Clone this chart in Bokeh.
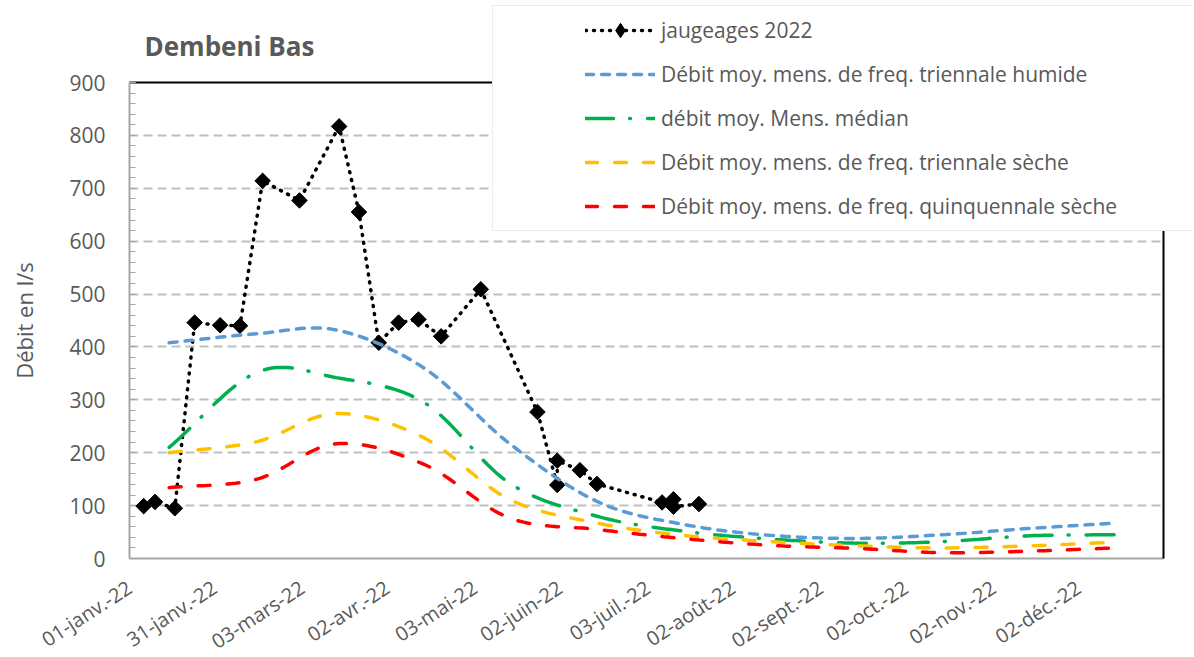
import numpy as np
from bokeh.plotting import figure
from bokeh.models import (Range1d, LinearAxis, FixedTicker, Legend, LegendItem, Label)
from bokeh.embed import file_html
from bokeh.resources import INLINE

# ---------------- data ----------------
gauge_dates = ["2022-01-06", "2022-01-10", "2022-01-17", "2022-01-24", "2022-02-02",
               "2022-02-09", "2022-02-17", "2022-03-02", "2022-03-16", "2022-03-23",
               "2022-03-30", "2022-04-06", "2022-04-13", "2022-04-21", "2022-05-05",
               "2022-05-25", "2022-06-01", "2022-06-01", "2022-06-09", "2022-06-15",
               "2022-07-08", "2022-07-12", "2022-07-12", "2022-07-21"]
gauge_values = [99, 107, 95, 446, 441, 440, 714, 677, 817, 655,
                408, 446, 452, 420, 509, 277, 139, 185, 167, 141,
                106, 112, 98, 103]

month_dates = ["2022-01-15", "2022-02-15", "2022-03-15", "2022-04-15", "2022-05-15",
               "2022-06-15", "2022-07-15", "2022-08-15", "2022-09-15", "2022-10-15",
               "2022-11-15", "2022-12-15"]
wet_triennial = [408, 425, 432, 360, 218, 108, 65, 44, 38, 45, 57, 67]
median_flow = [210, 352, 342, 295, 143, 80, 52, 37, 29, 32, 43, 45]
dry_triennial = [200, 221, 274, 228, 112, 67, 44, 32, 24, 20, 24, 31]
dry_quinquennial = [134, 150, 217, 178, 77, 55, 38, 25, 19, 11, 14, 20]

axis_dates = ["2022-01-01", "2023-01-01"]
tick_dates = ["2022-01-01", "2022-01-31", "2022-03-03", "2022-04-02", "2022-05-03",
              "2022-06-02", "2022-07-03", "2022-08-02", "2022-09-02", "2022-10-02",
              "2022-11-02", "2022-12-02"]
tick_labels = ["01-janv.-22", "31-janv.-22", "03-mars-22", "02-avr.-22", "03-mai-22",
               "02-juin-22", "03-juil.-22", "02-août-22", "02-sept.-22", "02-oct.-22",
               "02-nov.-22", "02-déc.-22"]
y_ticks = [0, 100, 200, 300, 400, 500, 600, 700, 800, 900]
y_max = 900

labels = ["jaugeages 2022",
          "Débit moy. mens. de freq. triennale humide",
          "débit moy. Mens. médian",
          "Débit moy. mens. de freq. triennale sèche",
          "Débit moy. mens. de freq. quinquennale sèche"]


def to_ms(dates):
    return np.array(dates, dtype="datetime64[ms]").astype(np.int64).astype(float)


def smooth(xs, ys, n=24):
    """Catmull-Rom smoothing (like Excel's smoothed line) through the given points."""
    xs = np.asarray(xs, float)
    ys = np.asarray(ys, float)
    px = np.concatenate([[2 * xs[0] - xs[1]], xs, [2 * xs[-1] - xs[-2]]])
    py = np.concatenate([[2 * ys[0] - ys[1]], ys, [2 * ys[-1] - ys[-2]]])
    t = np.linspace(0, 1, n, endpoint=False)
    h00 = 2 * t**3 - 3 * t**2 + 1
    h10 = t**3 - 2 * t**2 + t
    h01 = -2 * t**3 + 3 * t**2
    h11 = t**3 - t**2
    ox, oy = [], []
    for i in range(1, len(px) - 2):
        for arr, out in ((px, ox), (py, oy)):
            m1 = (arr[i + 1] - arr[i - 1]) / 2
            m2 = (arr[i + 2] - arr[i]) / 2
            out.extend(h00 * arr[i] + h10 * m1 + h01 * arr[i + 1] + h11 * m2)
    ox.append(xs[-1])
    oy.append(ys[-1])
    return ox, oy


FONT = "Open Sans"
GREY = "#595959"

# canvas and plot-area geometry (pixels); the whole canvas is the frame so that the
# legend and the title can overlap the plot area like in the original chart
W, H = 1192, 655
L, R, T, B = 129, 1163, 82, 558

x0, x1 = to_ms(axis_dates)
ppms = (R - L) / (x1 - x0)
ppu = (B - T) / y_max
x_range = Range1d(x0 - L / ppms, x0 + (W - L) / ppms)
y_range = Range1d(-(H - B) / ppu, y_max + T / ppu)

p = figure(x_axis_type="datetime", frame_width=W, frame_height=H,
           min_border=0, min_border_left=0, min_border_right=0,
           min_border_top=0, min_border_bottom=0,
           x_range=x_range, y_range=y_range,
           output_backend="svg", toolbar_location=None,
           background_fill_color="white", border_fill_color="white")
p.outline_line_color = None

# grid (horizontal dashed lines limited to the plot area)
grid = p.ygrid[0]
p.xgrid.visible = False
if "cross_bounds" in grid.properties():
    grid.ticker = FixedTicker(ticks=y_ticks[1:-1])
    grid.cross_bounds = (x0, x1)
    grid.grid_line_color = "#BFBFBF"
    grid.grid_line_width = 2
    grid.grid_line_dash = "9 5"
else:
    grid.visible = False
    gy = y_ticks[1:-1]
    p.segment(x0=[x0] * len(gy), y0=gy, x1=[x1] * len(gy), y1=gy,
              line_color="#BFBFBF", line_width=2, line_dash="9 5")

# y axis
yax = p.yaxis[0]
yax.fixed_location = x0
yax.bounds = (0, y_max)
yax.ticker = FixedTicker(ticks=y_ticks, minor_ticks=list(range(0, y_max + 1, 20)))
yax.axis_line_color = "#A6A6A6"
yax.axis_line_width = 2
yax.major_tick_line_color = "#A6A6A6"
yax.minor_tick_line_color = "#A6A6A6"
yax.major_tick_in = 6
yax.major_tick_out = 0
yax.minor_tick_in = 6
yax.minor_tick_out = 0
yax.major_label_standoff = 24
yax.major_label_text_font = FONT
yax.major_label_text_font_size = "21px"
yax.major_label_text_color = GREY
yax.axis_label = "Débit en l/s"
yax.axis_label_text_font = FONT
yax.axis_label_text_font_size = "22px"
yax.axis_label_text_font_style = "normal"
yax.axis_label_text_color = GREY
yax.axis_label_standoff = 27

# x axis
xax = p.xaxis[0]
xax.fixed_location = 0
xax.bounds = (x0, x1)
tick_ms = [float(v) for v in to_ms(tick_dates)]
xax.ticker = FixedTicker(ticks=tick_ms, minor_ticks=[])
xax.major_label_overrides = {t: lab for t, lab in zip(tick_ms, tick_labels)}
xax.major_label_orientation = 0.576
xax.axis_line_color = "#A6A6A6"
xax.axis_line_width = 2
xax.major_tick_line_color = None
xax.minor_tick_line_color = None
xax.major_label_standoff = 21
xax.major_label_text_font = FONT
xax.major_label_text_font_size = "20px"
xax.major_label_text_color = GREY

# black top / right border of the plot area
top = LinearAxis(ticker=FixedTicker(ticks=[]), fixed_location=y_max, bounds=(x0, x1),
                 axis_line_color="black", axis_line_width=2,
                 major_tick_line_color=None, minor_tick_line_color=None,
                 major_label_text_font_size="0px", major_label_standoff=0)
p.add_layout(top, "above")
right = LinearAxis(ticker=FixedTicker(ticks=[]), fixed_location=x1, bounds=(0, y_max),
                   axis_line_color="black", axis_line_width=2,
                   major_tick_line_color=None, minor_tick_line_color=None,
                   major_label_text_font_size="0px", major_label_standoff=0)
p.add_layout(right, "right")

# series
gx = to_ms(gauge_dates)
r_gl = p.line(gx, gauge_values, line_color="black", line_width=3.5, line_dash="1 7",
              line_cap="round")
r_gs = p.scatter(gx, gauge_values, marker="square", angle=np.pi / 4, size=11,
                 fill_color="black", line_color="black")
# diamond marker used only for the legend swatch
r_gleg = p.scatter(gx, gauge_values, marker="diamond", size=16,
                   fill_color="black", line_color="black", visible=False)

mx = to_ms(month_dates)
styles = [
    (wet_triennial, "#5B9BD5", "8 8"),
    (median_flow, "#00B050", "28 16 1 17"),
    (dry_triennial, "#FFC000", "12 17"),
    (dry_quinquennial, "#FF0000", "12 17"),
]
curve_renderers = []
for vals, col, dash in styles:
    sx, sy = smooth(mx, vals)
    r = p.line(sx, sy, line_color=col, line_width=3.5, line_dash=dash, line_cap="round")
    curve_renderers.append(r)

items = [LegendItem(label=labels[0], renderers=[r_gl, r_gleg])]
for lab, r in zip(labels[1:], curve_renderers):
    items.append(LegendItem(label=lab, renderers=[r]))

legend = Legend(items=items, location=(492, H - 231),
                title=" ", title_location="left", title_text_font_size="10px",
                title_standoff=75,
                glyph_width=70, glyph_height=36, label_height=26, label_width=530,
                label_standoff=6, spacing=8, padding=6, margin=0,
                label_text_font=FONT, label_text_font_size="21px", label_text_color=GREY,
                border_line_color="#D9D9D9", border_line_width=1,
                background_fill_color="white", background_fill_alpha=1.0)
p.add_layout(legend, "center")

title = Label(x=144, y=H - 45, x_units="screen", y_units="screen", text="Dembeni Bas",
              text_font=FONT, text_font_size="26px", text_font_style="bold",
              text_color=GREY, text_baseline="alphabetic")
p.add_layout(title)

open("out.html", "w").write(file_html(p, INLINE))
